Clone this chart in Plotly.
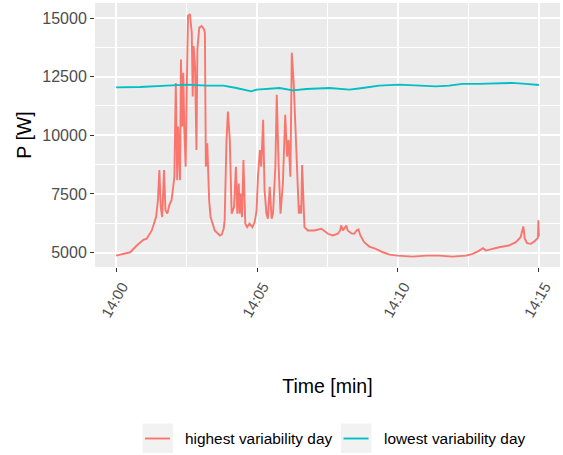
import pandas as pd
import plotly.graph_objects as go

# Seconds after 14:00 and power readings [W]
high_t = [0, 30, 44, 58, 65, 76, 85, 89, 92, 95, 98, 102, 105, 109, 113, 118, 124, 127,
          130, 132, 136, 138, 141, 143, 145, 148, 150, 153, 157, 161, 163, 165, 168, 171,
          173, 177, 182, 187, 189, 191, 194, 196, 198, 201, 210, 221, 225, 229, 231, 235,
          238, 242, 246, 251, 255, 258, 261, 263, 265, 268, 271, 275, 279, 284, 290, 295,
          299, 302, 306, 309, 313, 316, 320, 323, 327, 331, 334, 339, 342, 346, 350, 355,
          360, 364, 367, 371, 374, 378, 382, 385, 389, 392, 394, 396, 399, 401, 408, 422,
          437, 442, 451, 461, 472, 477, 479, 483, 486, 490, 493, 501, 507, 512, 516, 520,
          528, 539, 553, 568, 582, 599, 631, 660, 688, 716, 745, 759, 773, 781, 787, 801,
          815, 836, 851, 861, 864, 867, 870, 875, 883, 891, 898, 899, 900]
high_p = [4871, 5013, 5300, 5545, 5590, 5943, 6514, 7230, 8516, 6942, 6514, 8516, 6800,
          6660, 7015, 7230, 8230, 12234, 8087, 10373, 8087, 13233, 10373, 12663, 10373,
          8658, 11518, 15090, 15163, 14378, 11660, 13803, 12946, 9374, 13662, 14592, 14661,
          14520, 14378, 8658, 9661, 8375, 7230, 6514, 5943, 5729, 5772, 6029, 6372, 9803,
          11016, 9803, 6660, 6942, 8658, 6660, 7946, 6660, 7517, 6514, 8945, 6231, 6085,
          6231, 6085, 6300, 6800, 8230, 9374, 8658, 10660, 7659, 6660, 6445, 7800, 6445,
          6660, 8658, 11732, 8658, 6660, 7946, 10875, 9087, 9803, 8230, 13520, 12234, 10304,
          8658, 6660, 7015, 6660, 8730, 6514, 6085, 5943, 5943, 6016, 5943, 5802, 5729,
          5802, 5943, 6158, 5943, 6016, 6158, 5943, 5815, 5802, 5943, 5986, 5729, 5442,
          5257, 5159, 5013, 4914, 4871, 4828, 4871, 4871, 4828, 4871, 4944, 5086, 5184,
          5086, 5159, 5227, 5300, 5442, 5656, 5858, 6115, 5587, 5399, 5373, 5485, 5630,
          6372, 5686]

low_t = [0, 51, 108, 150, 193, 228, 256, 277, 288, 299, 334, 348, 376, 405, 454, 497,
         525, 560, 603, 645, 681, 709, 737, 773, 808, 843, 872, 900]
low_p = [12045, 12062, 12118, 12161, 12118, 12118, 12019, 11917, 11874, 11947, 11989,
         12019, 11917, 11977, 12019, 11947, 12019, 12118, 12161, 12118, 12088, 12118,
         12191, 12191, 12204, 12234, 12191, 12148]

series_names = ["highest variability day", "lowest variability day"]
series_colors = ["#F8766D", "#00BFC4"]
tick_labels = ["14:00", "14:05", "14:10", "14:15"]
p_ticks = [5000, 7500, 10000, 12500, 15000]

W, H = 563, 455
M_L, M_R, M_T, M_B = 95, 3, 3, 188
PW, PH = W - M_L - M_R, H - M_T - M_B
LINE_W = 1.9

def px_x(x):
    """pixel column -> paper x fraction"""
    return (x - M_L) / PW

def px_y(y):
    """pixel row (from top) -> paper y fraction"""
    return (H - M_B - y) / PH

base = pd.Timestamp("2021-01-01 14:00:00")
to_time = lambda secs: [base + pd.Timedelta(seconds=s) for s in secs]

fig = go.Figure()
for name, color, t, p in zip(series_names, series_colors, [high_t, low_t], [high_p, low_p]):
    fig.add_trace(go.Scatter(x=to_time(t), y=p, mode="lines", name=name, showlegend=False,
                             line=dict(color=color, width=LINE_W)))

tick_vals = [base + pd.Timedelta(minutes=5 * i) for i in range(len(tick_labels))]
x_pad = pd.Timedelta(seconds=45)

font_family = "Liberation Sans, Arial, sans-serif"

# ggplot-style legend below the panel: grey key boxes, coloured key lines, labels
key_left = [142.5, 341.0]
key_w, key_top, key_bot = 30.5, 423.5, 453.0
key_mid = 438.5
shapes, annotations = [], []
for name, color, kx in zip(series_names, series_colors, key_left):
    shapes.append(dict(type="rect", xref="paper", yref="paper",
                       x0=px_x(kx), x1=px_x(kx + key_w), y0=px_y(key_bot), y1=px_y(key_top),
                       fillcolor="#F2F2F2", line=dict(width=0), layer="below"))
    shapes.append(dict(type="line", xref="paper", yref="paper",
                       x0=px_x(kx + 2.5), x1=px_x(kx + key_w - 3), y0=px_y(key_mid), y1=px_y(key_mid),
                       line=dict(color=color, width=LINE_W)))
    annotations.append(dict(text=name, xref="paper", yref="paper", x=px_x(kx + 40.8),
                            y=px_y(key_mid), xanchor="left", yanchor="middle", showarrow=False,
                            font=dict(size=15.4, color="black", family=font_family)))

fig.update_layout(
    width=W, height=H,
    margin=dict(l=M_L, r=M_R, t=M_T, b=M_B),
    paper_bgcolor="white",
    plot_bgcolor="#EBEBEB",
    font=dict(family=font_family, color="black"),
    shapes=shapes,
    annotations=annotations,
)
fig.update_xaxes(
    type="date", automargin=False,
    range=[base - x_pad, tick_vals[-1] + x_pad],
    tickvals=tick_vals, ticktext=tick_labels, tickangle=-60,
    tickfont=dict(size=15, color="#4D4D4D"), ticklabelshift=6,
    ticks="outside", ticklen=4, tickwidth=1.1, tickcolor="#333333",
    showgrid=True, gridcolor="white", gridwidth=1.8,
    minor=dict(dtick=150000, tick0=base, showgrid=True, gridcolor="white", gridwidth=0.9),
    zeroline=False, showline=False,
    title=dict(text="Time [min]", font=dict(size=19.5, color="black"), standoff=60),
)
fig.update_yaxes(
    automargin=False,
    range=[4385, 15641],
    tickvals=p_ticks, tickformat="d",
    tickfont=dict(size=16, color="#4D4D4D"),
    ticks="outside", ticklen=4, tickwidth=1.1, tickcolor="#333333",
    showgrid=True, gridcolor="white", gridwidth=1.8,
    minor=dict(tickvals=[6250, 8750, 11250, 13750], showgrid=True, gridcolor="white", gridwidth=0.9),
    zeroline=False, showline=False,
    title=dict(text="P [W]", font=dict(size=19.5, color="black"), standoff=5),
)

fig.write_html("out.html")
